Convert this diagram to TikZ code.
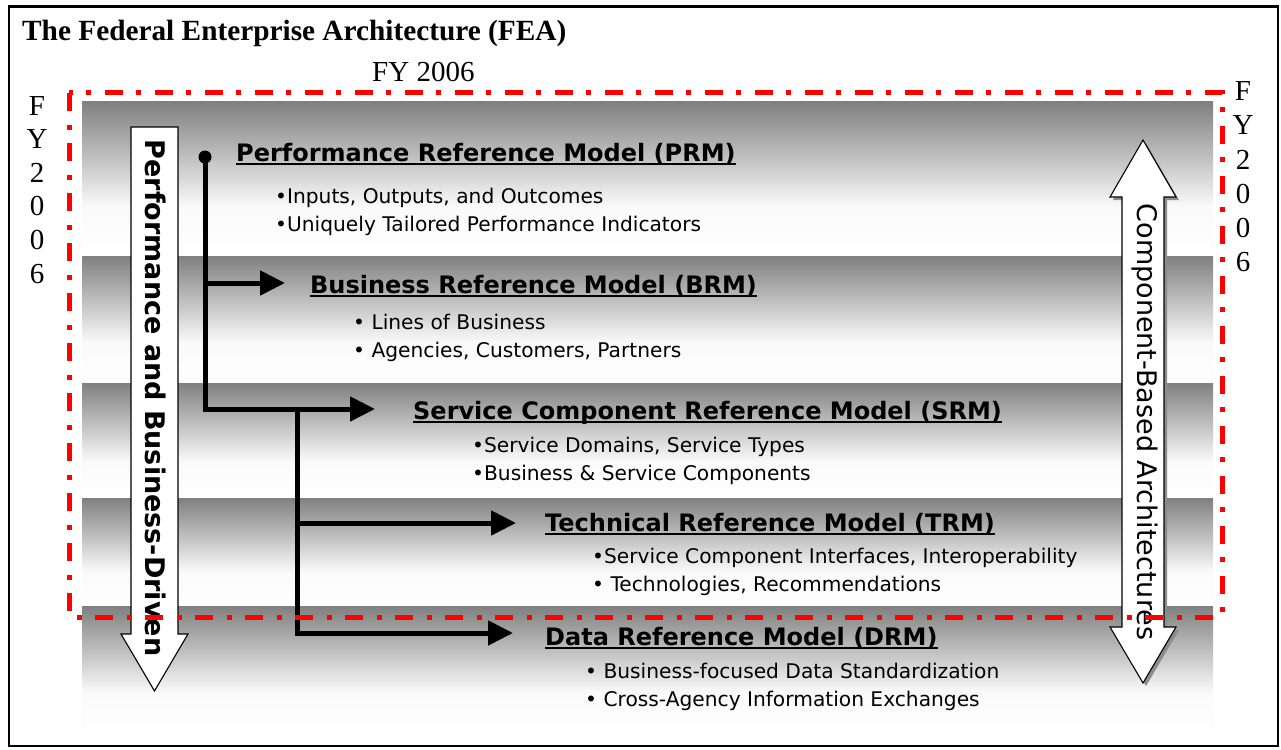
\documentclass[tikz,border=0pt]{standalone}
\usepackage{fontspec}
\setmainfont{DejaVu Sans}
\newfontfamily\timesfont{Liberation Serif}
\usetikzlibrary{arrows.meta}
\definecolor{bandgray}{RGB}{128,128,128}
\definecolor{feared}{RGB}{255,0,0}
\pgfdeclareverticalshading{bandshade}{100bp}{color(0bp)=(white); color(25bp)=(white); color(41bp)=(white!98!black); color(75bp)=(bandgray); color(100bp)=(bandgray)}
\newcommand\ttlfont{\bfseries\fontsize{24}{28}\selectfont}
\newcommand\bulfont{\fontsize{20.2}{24}\selectfont}
\begin{document}
\begin{tikzpicture}[x=1pt,y=-1pt,
  band/.style={shading=bandshade},
  ttl/.style={anchor=base west, inner sep=0pt, font=\ttlfont},
  bul/.style={anchor=base west, inner sep=0pt, font=\bulfont},
  uline/.style={line width=2pt},
  conn/.style={line width=5pt, line join=miter, -{Triangle[length=25pt,width=24pt]}},
  fycol/.style={anchor=base, inner sep=0pt, font=\timesfont\fontsize{29}{33}\selectfont},
  blockarrow/.style={draw=black, line width=1.1pt, fill=white, line join=miter},
  redbox/.style={draw=feared, line width=5pt, dash pattern=on 18pt off 14pt on 5pt off 13pt}
]
\useasboundingbox (0,0) rectangle (1281,749);
\fill[white] (0,0) rectangle (1281,749);
% outer frame
\draw[line width=2.8pt] (9,6.5) rectangle (1278,746);
% titles
\node[anchor=base west, inner sep=0pt, font=\timesfont\bfseries\fontsize{29.3}{33}\selectfont] (title) at (22,41) {The Federal Enterprise Architecture (FEA)};
\node[anchor=base west, inner sep=0pt, font=\timesfont\fontsize{29}{33}\selectfont] (fytop) at (372,82) {FY 2006};
\foreach \ch [count=\i from 0] in {F,Y,2,0,0,6} {
  \node[fycol] (fl\i) at (37,115+33.6*\i) {\ch};
  \node[fycol] (fr\i) at (1243,101+34*\i) {\ch};
}
% bands
\shade[band] (82,102) rectangle (1213,256);
\shade[band] (82,256) rectangle (1213,383);
\shade[band] (82,383) rectangle (1213,498);
\shade[band] (82,498) rectangle (1213,606);
\shade[band] (82,606) rectangle (1213,733);
% model texts
\node[ttl] (prm) at (236,161) {Performance Reference Model (PRM)};
\node[bul] (prm1) at (275,203) {•Inputs, Outputs, and Outcomes};
\node[bul] (prm2) at (275,231) {•Uniquely Tailored Performance Indicators};
\node[ttl] (brm) at (310,293) {Business Reference Model (BRM)};
\node[bul] (brm1) at (353,329) {• Lines of Business};
\node[bul] (brm2) at (353,357) {• Agencies, Customers, Partners};
\node[ttl] (srm) at (413,419) {Service Component Reference Model (SRM)};
\node[bul] (srm1) at (472,452) {•Service Domains, Service Types};
\node[bul] (srm2) at (472,480) {•Business \& Service Components};
\node[ttl] (trm) at (545,531) {Technical Reference Model (TRM)};
\node[bul] (trm1) at (592,563) {•Service Component Interfaces, Interoperability};
\node[bul] (trm2) at (592,591) {• Technologies, Recommendations};
\node[ttl] (drm) at (545,645) {Data Reference Model (DRM)};
\node[bul] (drm1) at (585,678) {• Business-focused Data Standardization};
\node[bul] (drm2) at (585,706) {• Cross-Agency Information Exchanges};
\foreach \n in {prm,brm,srm,trm,drm}
  \draw[uline] ([yshift=-3pt]\n.base west) -- ([yshift=-3pt]\n.base east);
% connectors
\node[circle, fill=black, inner sep=0pt, minimum size=13pt] (dot) at (205,157) {};
\coordinate (j1) at (205,283);
\coordinate (j3) at (297,409);
\coordinate (j4) at (297,523);
\coordinate (brmA) at (285,283);
\coordinate (srmA) at (375,409);
\coordinate (trmA) at (516,523);
\coordinate (drmA) at (513,633);
\draw[conn] (dot.center) |- (srmA);
\draw[conn] (j1) -- (brmA);
\draw[conn] (j3) |- (drmA);
\draw[conn] (j4) -- (trmA);
% left block arrow
\draw[blockarrow] (131,127) -- (178,127) -- (178,634) -- (188,634) -- (154.5,691) -- (121,634) -- (131,634) -- cycle;
\node[rotate=-90, anchor=base, inner sep=0pt, font=\bfseries\fontsize{27}{30}\selectfont] (ltext) at (145,398) {Performance and Business-Driven};
% right double arrow with shadow
\fill[black!45, shift={(3,3)}] (1143,140) -- (1176,197) -- (1164,197) -- (1164,627) -- (1176,627) -- (1143,683) -- (1110,627) -- (1122,627) -- (1122,197) -- (1110,197) -- cycle;
\draw[blockarrow] (1143,140) -- (1176,197) -- (1164,197) -- (1164,627) -- (1176,627) -- (1143,683) -- (1110,627) -- (1122,627) -- (1122,197) -- (1110,197) -- cycle;
\node[rotate=-90, anchor=base, inner sep=0pt, font=\fontsize{27}{30}\selectfont] (rtext) at (1137,422) {Component-Based Architectures};
% red dash-dot box
\draw[redbox] (69,93) rectangle (1222,617);
\end{tikzpicture}
\end{document}
